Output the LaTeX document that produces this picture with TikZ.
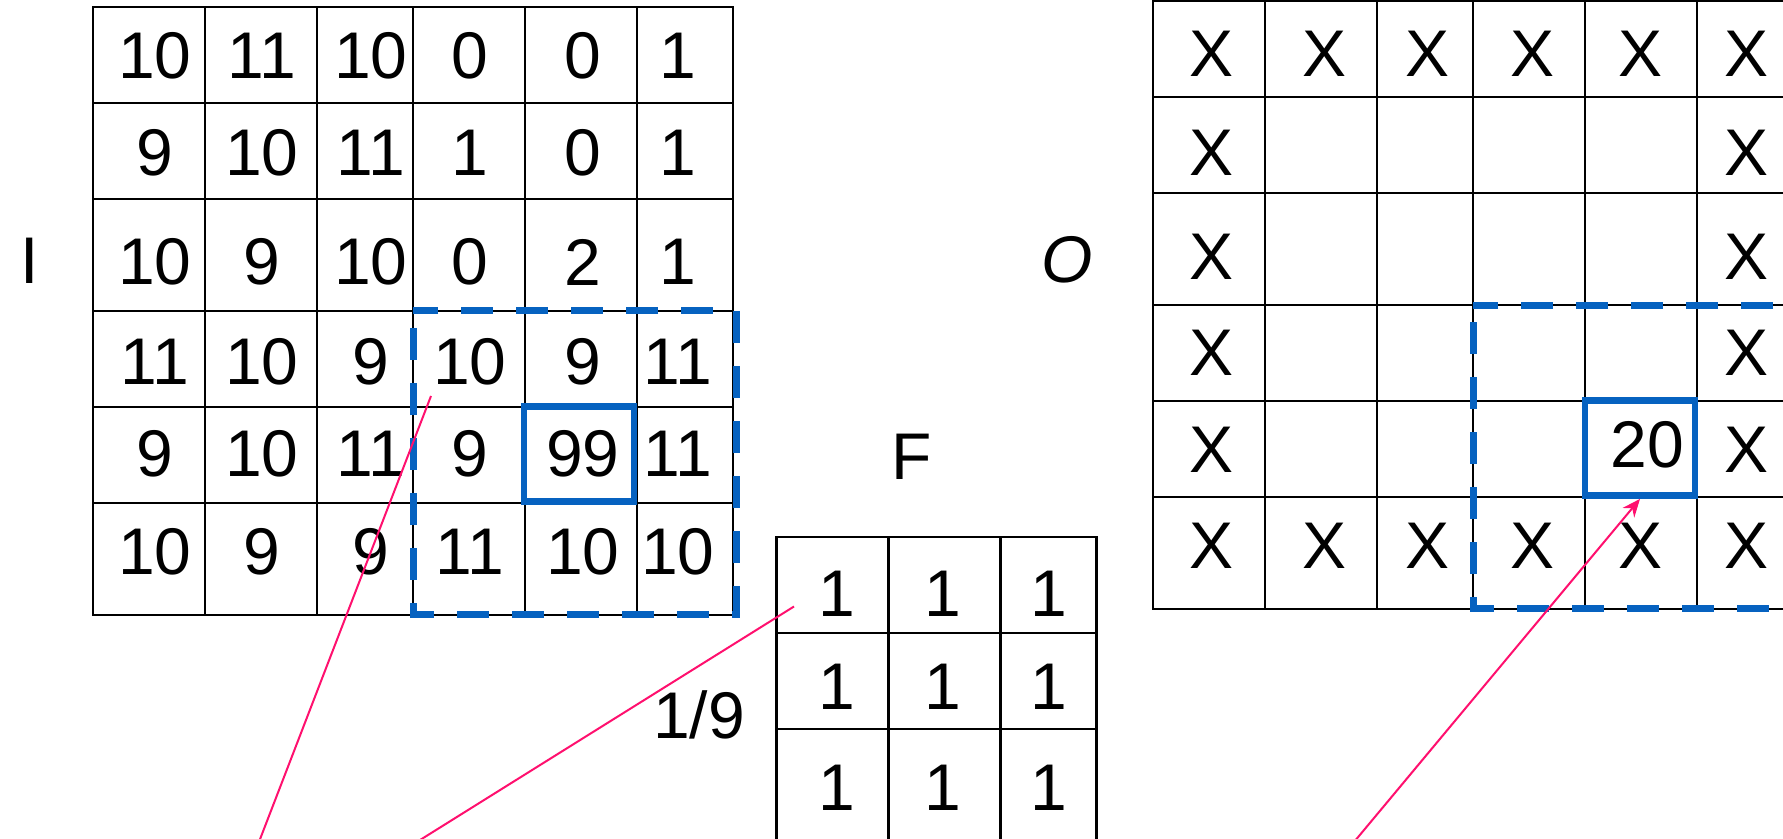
\documentclass[tikz,border=0pt]{standalone}
\usepackage{fontspec}
\setmainfont{Liberation Sans}
\usetikzlibrary{arrows.meta}
\definecolor{boxblue}{RGB}{6,98,192}
\definecolor{pointpink}{RGB}{255,16,110}
\tikzset{
  cellnum/.style={inner sep=0pt, font=\fontsize{33}{36}\selectfont},
  gridline/.style={black, line width=1.1pt},
  windowbox/.style={boxblue, line width=3.5pt, dash pattern=on 16pt off 11.5pt, dash phase=19pt},
  hotbox/.style={draw=boxblue, line width=3.2pt, inner sep=0pt,
    minimum width=55pt, minimum height=47.5pt},
  pointer/.style={pointpink, line width=1pt}
}

\begin{document}
\begin{tikzpicture}[x=0.5pt, y=-0.5pt]
\useasboundingbox (0,0) rectangle (1783,839);
\clip (0,0) rectangle (1783,839);
% input image I
\begin{scope}[shift={(93,7)}]
\draw [gridline] (0,0) rectangle (640,608);
\foreach \x in {112,224,320,432,544} \draw [gridline] (\x,0)--(\x,608);
\foreach \y in {96,192,304,400,496} \draw [gridline] (0,\y)--(640,\y);
\draw [windowbox] (320,304) rectangle (643,607);
\node [hotbox] (hotI) at (486,447) {};
\foreach \row [count=\rw] in {{10,11,10,0,0,1},{9,10,11,1,0,1},{10,9,10,0,2,1},
    {11,10,9,10,9,11},{9,10,11,9,99,11},{10,9,9,11,10,10}} {
  \foreach \v [count=\cl] in \row {
    \pgfmathsetmacro{\tx}{{62,169,278,377,490,585}[\cl-1]}
    \pgfmathsetmacro{\ty}{{49,146,255,355,447,545}[\rw-1]}
    \node [cellnum] (I-\rw-\cl) at (\tx,\ty) {\v};
  }
}
\end{scope}
\node [cellnum] (labI) at (30,261) {I};
% output image O
\begin{scope}[shift={(1153,1.2)}]
\draw [gridline] (0,0) rectangle (640,608);
\foreach \x in {112,224,320,432,544} \draw [gridline] (\x,0)--(\x,608);
\foreach \y in {96,192,304,400,496} \draw [gridline] (0,\y)--(640,\y);
\draw [windowbox] (320,304) rectangle (643,607);
\node [hotbox] (hotO) at (487,447) {};
\foreach \rw/\cols in {1/{1,2,3,4,5,6},2/{1,6},3/{1,6},4/{1,6},5/{1,6},6/{1,2,3,4,5,6}} {
  \foreach \cl in \cols {
    \pgfmathsetmacro{\tx}{{58,171,274,379,487,593}[\cl-1]}
    \pgfmathsetmacro{\ty}{{53,152,256,352,449,545}[\rw-1]}
    \node [cellnum] (O-\rw-\cl) at (\tx,\ty) {X};
  }
}
\node [cellnum] (O-5-5) at (494,444) {20};
\end{scope}
\node [cellnum] (labO) at (1067,260) {\itshape O};
% filter F
\begin{scope}[shift={(776.4,537.3)}]
\draw [gridline] (0,0) rectangle (320,304);
\foreach \x in {112,224} \draw [gridline] (\x,0)--(\x,304);
\foreach \y in {96,192} \draw [gridline] (0,\y)--(320,\y);
\foreach \rw in {1,2,3} {
  \foreach \cl in {1,2,3} {
    \pgfmathsetmacro{\tx}{{60,166,272}[\cl-1]}
    \pgfmathsetmacro{\ty}{{56,149,250}[\rw-1]}
    \node [cellnum] (F-\rw-\cl) at (\tx,\ty) {1};
  }
}
\end{scope}
\node [cellnum] (labF) at (912,457) {F};
\node [cellnum, anchor=base] (norm) at (699,738) {1/9};
% pointers
\coordinate (winI) at (431,396);
\coordinate (footI) at (252,860);
\coordinate (winF) at (794,606.5);
\coordinate (footF) at (388,860);
\coordinate (footO) at (1339,860);
\draw [pointer] (winI)--(footI);
\draw [pointer] (winF)--(footF);
\draw [pointer, -{Stealth[length=9pt, width=7.5pt]}] (footO)--(hotO.south);
\end{tikzpicture}
\end{document}
